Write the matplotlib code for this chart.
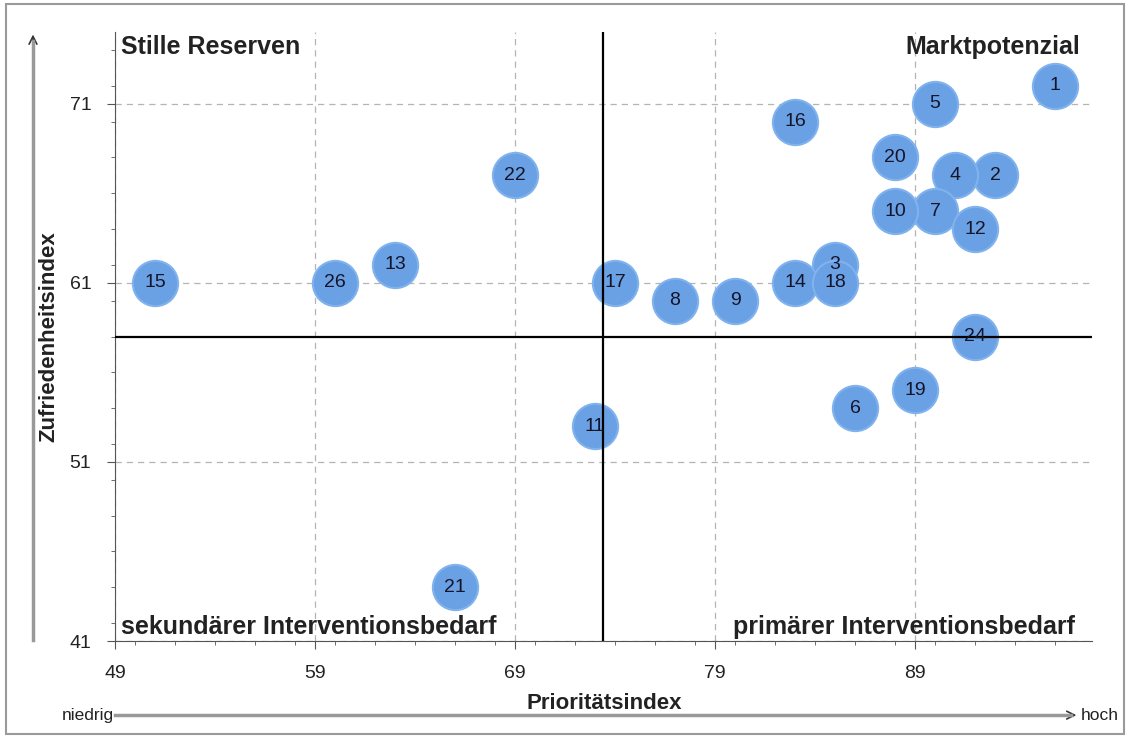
import matplotlib.pyplot as plt
from matplotlib.patches import Rectangle
from matplotlib.ticker import MultipleLocator

plt.rcParams['font.family'] = ['Liberation Sans', 'DejaVu Sans']

# item numbers with priority index (x) and satisfaction index (y)
labels = ['1', '2', '3', '4', '5', '6', '7', '8', '9', '10', '11', '12', '13',
          '14', '15', '16', '17', '18', '19', '20', '21', '22', '24', '26']
prioritaet = [96, 93, 85, 91, 90, 86, 90, 77, 80, 88, 73, 92, 63,
              83, 51, 83, 74, 85, 89, 88, 66, 69, 92, 60]
zufriedenheit = [72, 67, 62, 67, 71, 54, 65, 60, 60, 65, 53, 64, 62,
                 61, 61, 70, 61, 61, 55, 68, 44, 67, 58, 61]

x_ticks = [49, 59, 69, 79, 89]
y_ticks = [41, 51, 61, 71]
x_split = 73.4
y_split = 58

fig = plt.figure(figsize=(11.3, 7.38), dpi=100)
fig.patches.append(Rectangle((0.005, 0.006), 0.99, 0.988, transform=fig.transFigure,
                             fill=False, edgecolor='#9a9a9a', linewidth=1.5))
ax = fig.add_axes([0.1018, 0.1314, 0.8646, 0.8252])

ax.scatter(prioritaet, zufriedenheit, s=1060, color='#6aa0e4', edgecolor='#80b2ee',
           linewidth=1.5, zorder=3)
for lab, x, y in zip(labels, prioritaet, zufriedenheit):
    ax.text(x, y, lab, ha='center', va='center', fontsize=14, color='#15152a', zorder=5)

ax.axvline(x_split, color='black', linewidth=1.6, zorder=4)
ax.axhline(y_split, color='black', linewidth=1.6, zorder=4)

ax.set_xlim(49, 97.85)
ax.set_ylim(41, 75)
ax.set_xticks(x_ticks)
ax.set_yticks(y_ticks)
ax.xaxis.set_minor_locator(MultipleLocator(2))
ax.yaxis.set_minor_locator(MultipleLocator(2))
ax.tick_params(which='major', length=6, labelsize=14, color='#555555', labelcolor='#222222')
ax.tick_params(which='minor', length=3, color='#555555')
ax.tick_params(axis='x', which='major', pad=11)
ax.tick_params(axis='y', which='major', pad=11)
ax.grid(True, which='major', linestyle=(0, (5, 4)), color='#b4b4b4', linewidth=0.9)
ax.set_axisbelow(True)

for side in ['top', 'right']:
    ax.spines[side].set_visible(False)
for side in ['left', 'bottom']:
    ax.spines[side].set_color('#555555')

ax.set_xlabel('Prioritätsindex', fontsize=16, fontweight='bold', color='#222222')
ax.set_ylabel('Zufriedenheitsindex', fontsize=16, fontweight='bold', color='#222222')
ax.xaxis.set_label_coords(0.501, -0.085)
ax.yaxis.set_label_coords(-0.057, 0.5)

quad_kw = dict(fontsize=18, fontweight='bold', color='#222222', transform=ax.transAxes)
ax.text(0.006, 0.975, 'Stille Reserven', ha='left', va='center', **quad_kw)
ax.text(0.988, 0.975, 'Marktpotenzial', ha='right', va='center', **quad_kw)
ax.text(0.006, 0.004, 'sekundärer Interventionsbedarf', ha='left', va='bottom', **quad_kw)
ax.text(0.983, 0.004, 'primärer Interventionsbedarf', ha='right', va='bottom', **quad_kw)

# direction arrows outside the axes
fig.add_artist(plt.Line2D([0.0292, 0.0292], [0.133, 0.945], color='#999999', linewidth=2.5))
ax.annotate('', xy=(0.0292, 0.957), xytext=(0.0292, 0.9), xycoords='figure fraction',
            textcoords='figure fraction', arrowprops=dict(arrowstyle='->', color='#333333',
                                                           lw=1.2, mutation_scale=14))
fig.add_artist(plt.Line2D([0.102, 0.948], [0.031, 0.031], color='#999999', linewidth=2.5))
ax.annotate('', xy=(0.955, 0.031), xytext=(0.92, 0.031), xycoords='figure fraction',
            textcoords='figure fraction', arrowprops=dict(arrowstyle='->', color='#333333',
                                                           lw=1.2, mutation_scale=14))
fig.text(0.101, 0.031, 'niedrig', ha='right', va='center', fontsize=12.5, color='#222222')
fig.text(0.956, 0.031, 'hoch', ha='left', va='center', fontsize=12.5, color='#222222')

fig.savefig('out.png', dpi=100)
